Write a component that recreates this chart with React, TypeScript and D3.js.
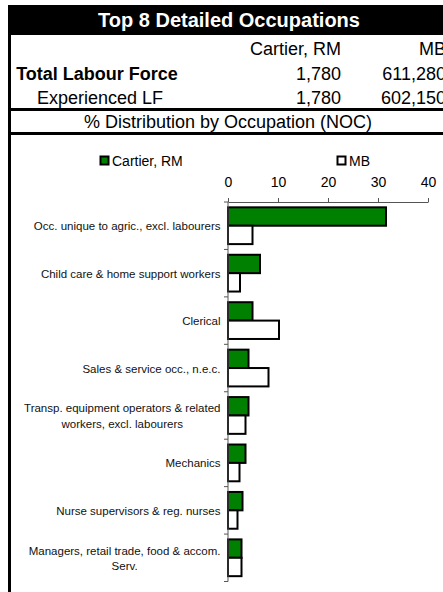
import { useRef, useEffect } from 'react';
import * as d3 from 'd3';

const W = 443;
const H = 592;
const FONT = "'Liberation Sans', Arial, sans-serif";

const TITLE = 'Top 8 Detailed Occupations';
const AREAS = ['Cartier, RM', 'MB'];
const ROW_LABELS = ['Total Labour Force', 'Experienced LF'];
const TOTAL_LF = ['1,780', '611,280'];
const EXPERIENCED_LF = ['1,780', '602,150'];
const SUBTITLE = '% Distribution by Occupation (NOC)';

const categories = [
  'Occ. unique to agric., excl. labourers',
  'Child care & home support workers',
  'Clerical',
  'Sales & service occ., n.e.c.',
  'Transp. equipment operators & related\nworkers, excl. labourers',
  'Mechanics',
  'Nurse supervisors & reg. nurses',
  'Managers, retail trade, food & accom.\nServ.',
];
const cartierValues = [31.6, 6.4, 4.9, 4.1, 4.1, 3.5, 2.9, 2.7];
const mbValues = [4.9, 2.4, 10.2, 8.1, 3.5, 2.3, 1.9, 2.7];
const xTicks = [0, 10, 20, 30, 40];

const SERIES_COLORS = ['#008000', '#ffffff'];

export default function App() {
  const svgRef = useRef<SVGSVGElement | null>(null);

  useEffect(() => {
    const svg = d3.select(svgRef.current);
    svg.selectAll('*').remove();
    svg.attr('font-family', FONT);

    // Header table
    svg.append('rect').attr('x', 8).attr('y', 5).attr('width', 442).attr('height', 30).attr('fill', '#000');
    svg.append('text').attr('x', 229).attr('y', 27).attr('text-anchor', 'middle')
      .attr('fill', '#fff').attr('font-size', 20).attr('font-weight', 700).text(TITLE);

    const colRight = [341, 446];
    AREAS.forEach((a, i) => {
      svg.append('text').attr('x', colRight[i]).attr('y', 54.5).attr('text-anchor', 'end')
        .attr('font-size', 18).text(a);
    });
    svg.append('text').attr('x', 97).attr('y', 79.5).attr('text-anchor', 'middle')
      .attr('font-size', 18).attr('font-weight', 700).text(ROW_LABELS[0]);
    svg.append('text').attr('x', 100).attr('y', 103.5).attr('text-anchor', 'middle')
      .attr('font-size', 18).text(ROW_LABELS[1]);
    TOTAL_LF.forEach((v, i) => {
      svg.append('text').attr('x', colRight[i]).attr('y', 79.5).attr('text-anchor', 'end')
        .attr('font-size', 18).text(v);
    });
    EXPERIENCED_LF.forEach((v, i) => {
      svg.append('text').attr('x', colRight[i]).attr('y', 103.5).attr('text-anchor', 'end')
        .attr('font-size', 18).text(v);
    });
    svg.append('text').attr('x', 228).attr('y', 128).attr('text-anchor', 'middle')
      .attr('font-size', 18).text(SUBTITLE);

    [109.5, 133.5].forEach(yy => {
      svg.append('line').attr('x1', 8).attr('x2', 450).attr('y1', yy).attr('y2', yy)
        .attr('stroke', '#000').attr('stroke-width', 3);
    });
    svg.append('line').attr('x1', 9.5).attr('x2', 9.5).attr('y1', 5).attr('y2', H)
      .attr('stroke', '#000').attr('stroke-width', 3);

    // Chart
    const x = d3.scaleLinear().domain([0, 40]).range([228, 428]);
    const y = d3.scaleBand<string>().domain(categories).range([202, 581.5]);
    const inner = d3.scaleBand<string>().domain(AREAS).range([0, y.bandwidth()])
      .paddingInner(0).paddingOuter(0.29);

    // Legend
    const legendX = [100, 337];
    AREAS.forEach((a, i) => {
      svg.append('rect').attr('x', legendX[i] + 0.5).attr('y', 156.5).attr('width', 8).attr('height', 8)
        .attr('fill', SERIES_COLORS[i]).attr('stroke', '#000').attr('stroke-width', 2);
      svg.append('text').attr('x', legendX[i] + 12).attr('y', 166).attr('font-size', 14)
        .attr('fill', '#000').text(a);
    });

    // Top axis
    const xAxis = svg.append('g').attr('transform', `translate(0,${202})`)
      .call(d3.axisTop(x).tickValues(xTicks).tickSize(4).tickSizeOuter(0).tickPadding(11));
    xAxis.select('.domain').attr('stroke', '#555');
    xAxis.selectAll('.tick line').attr('stroke', '#555');
    xAxis.selectAll('.tick text').attr('font-size', 14).attr('font-family', FONT).attr('fill', '#000');

    // Bars
    const series = [cartierValues, mbValues];
    series.forEach((vals, si) => {
      svg.append('g').selectAll('rect').data(categories).join('rect')
        .attr('x', x(0))
        .attr('y', c => (y(c) as number) + (inner(AREAS[si]) as number))
        .attr('width', (_, i) => x(vals[i]) - x(0))
        .attr('height', inner.bandwidth())
        .attr('fill', SERIES_COLORS[si])
        .attr('stroke', '#000')
        .attr('stroke-width', 2);
    });

    // Left axis
    const [y0, y1] = y.range();
    svg.append('line').attr('x1', 228).attr('x2', 228).attr('y1', y0).attr('y2', y1)
      .attr('stroke', '#555');
    const bounds = [...categories.map(c => y(c) as number), y1];
    svg.append('g').selectAll('line').data(bounds).join('line')
      .attr('x1', 224).attr('x2', 228).attr('y1', d => d).attr('y2', d => d)
      .attr('stroke', '#555');

    // Category labels
    const labelRight = 220.5;
    categories.forEach(c => {
      const lines = c.split('\n');
      const cy = (y(c) as number) + y.bandwidth() / 2;
      const t = svg.append('text').attr('font-size', 11.5).attr('fill', '#111');
      if (lines.length === 1) {
        t.attr('x', labelRight).attr('y', cy + 4.5).attr('text-anchor', 'end').text(c);
      } else {
        const spans = lines.map((ln, li) =>
          t.append('tspan').attr('y', cy + 4.5 + (li - (lines.length - 1) / 2) * 15.5).text(ln));
        const maxW = d3.max(spans, s => (s.node() as SVGTSpanElement).getComputedTextLength()) || 0;
        t.attr('text-anchor', 'middle');
        spans.forEach(s => s.attr('x', labelRight - maxW / 2));
      }
    });
  }, []);

  return (
    <svg
      ref={svgRef}
      width={W}
      height={H}
      style={{ position: 'absolute', left: 0, top: 0, display: 'block', background: '#fff' }}
    />
  );
}
